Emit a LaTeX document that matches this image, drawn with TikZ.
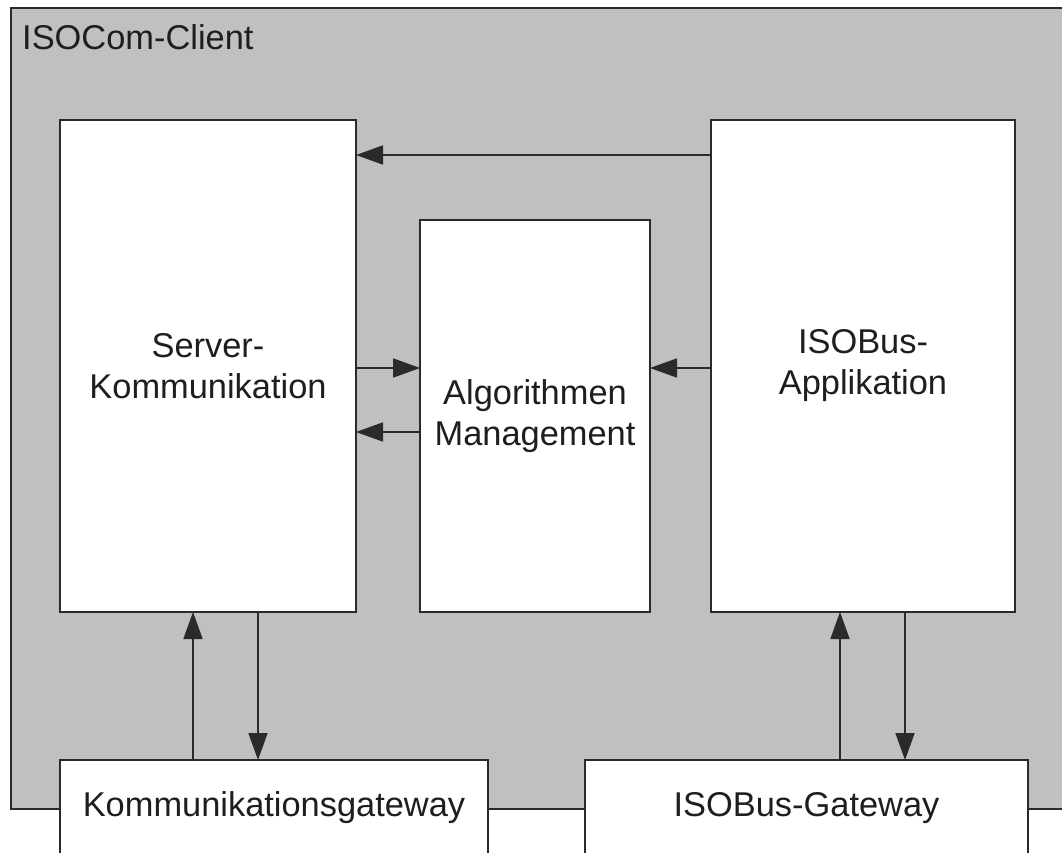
\documentclass[tikz,border=0pt]{standalone}
\usepackage{fontspec}
\setmainfont{Liberation Sans}
\usetikzlibrary{arrows.meta,calc}
\definecolor{bgray}{HTML}{C0C0C0}
\definecolor{edge}{HTML}{2A2A2A}
\definecolor{txt}{HTML}{1E1E1E}
\begin{document}
\begin{tikzpicture}[x=1pt,y=-1pt,
  box/.style={draw=edge,line width=1.8pt,fill=white,inner sep=0pt,outer sep=0pt,
    align=center,text=txt,font=\fontsize{34.4}{41}\selectfont},
  arr/.style={draw=edge,line width=1.8pt,-{Triangle[length=27pt,width=19pt]}}]
\useasboundingbox (0,0) rectangle (1062,853);
\clip (0,0) rectangle (1062,853);
\fill[white] (0,0) rectangle (1062,853);
% outer container
\node[draw=edge,line width=1.8pt,fill=bgray,inner sep=0pt,outer sep=0pt,
  minimum width=1059pt,minimum height=801pt,anchor=north west] (C) at (11,8) {};
\node[anchor=base west,inner sep=0pt,text=txt,font=\fontsize{34.4}{41}\selectfont] (T) at (22,50) {ISOCom-Client};
% boxes
\node[box,minimum width=296pt,minimum height=492pt] (S) at (208,366) {Server-\\Kommunikation};
\node[box,minimum width=230pt,minimum height=392pt] (M) at (535,416) {Algorithmen\\Management};
\node[box,minimum width=304pt,minimum height=492pt] (A) at (863,366) {ISOBus-\\Applikation};
\node[box,minimum width=428pt,minimum height=96pt] (K) at (274,808) {Kommunikationsgateway};
\node[box,minimum width=443pt,minimum height=96pt] (G) at (806.5,808) {ISOBus-Gateway};
% connectors
\draw[arr] ($(A.north west)+(0,35)$) -- ($(S.north east)+(0,35)$);
\draw[arr] ($(S.north east)+(0,248)$) -- ($(M.north west)+(0,148)$);
\draw[arr] ($(M.north west)+(0,212)$) -- ($(S.north east)+(0,312)$);
\draw[arr] ($(A.north west)+(0,248)$) -- ($(M.north east)+(0,148)$);
\draw[arr] ($(K.north west)+(133,0)$) -- ($(S.south west)+(133,0)$);
\draw[arr] ($(S.south west)+(198,0)$) -- ($(K.north west)+(198,0)$);
\draw[arr] ($(G.north west)+(255,0)$) -- ($(A.south west)+(129,0)$);
\draw[arr] ($(A.south west)+(194,0)$) -- ($(G.north west)+(320,0)$);
\end{tikzpicture}
\end{document}
